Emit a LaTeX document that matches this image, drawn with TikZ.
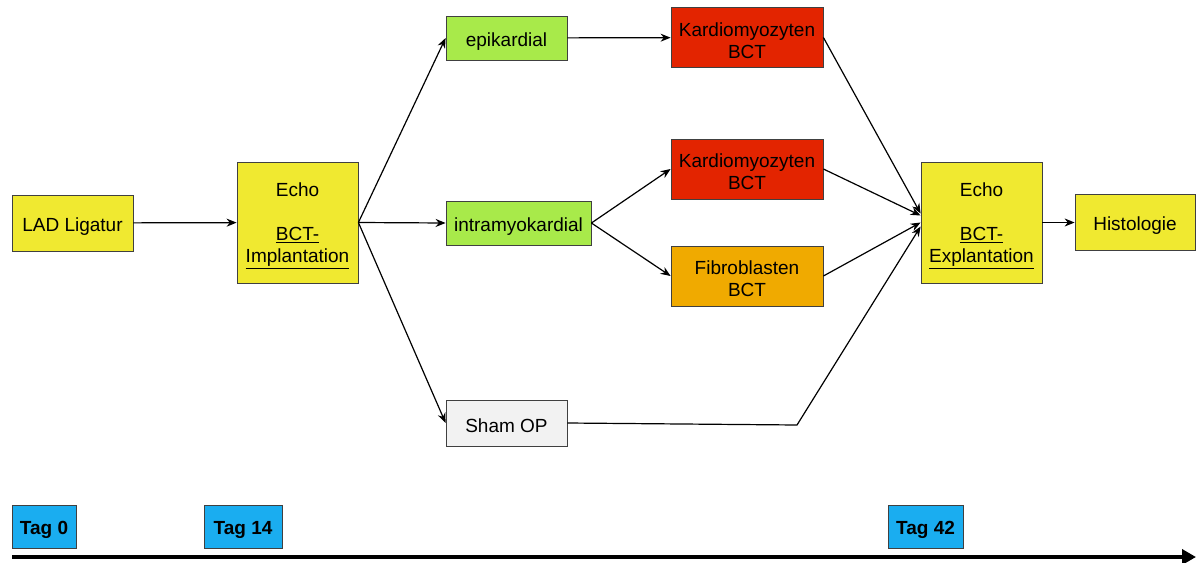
\documentclass[tikz,border=0pt]{standalone}
\usepackage{fontspec}
\setmainfont{Liberation Sans}
\usetikzlibrary{arrows.meta}

\definecolor{echoyellow}{RGB}{240,233,48}
\definecolor{graftgreen}{RGB}{168,234,74}
\definecolor{cardiored}{RGB}{227,36,0}
\definecolor{fibroorange}{RGB}{240,170,0}
\definecolor{shamgray}{RGB}{242,242,242}
\definecolor{tagblue}{RGB}{26,173,240}

\def\lift{\rule{0pt}{20pt}}   % taller first line, so the text sits a bit lower

\begin{document}
\begin{tikzpicture}[x=1pt, y=-1pt,
    nodes = {font=\fontsize{19}{22}\selectfont, align=center, inner sep=0pt,
             draw=black!75, line width=0.8pt},
    stepbox/.style = {fill=echoyellow, minimum width=121pt, minimum height=56pt},
    echobox/.style = {fill=echoyellow, minimum width=121pt, minimum height=121pt},
    routebox/.style = {fill=graftgreen, minimum height=44pt},
    cellbox/.style = {minimum width=152pt, minimum height=60pt},
    tagbox/.style = {fill=tagblue, minimum height=43pt, font=\fontsize{19}{22}\selectfont\bfseries},
    arr/.style = {draw=black, line width=1.2pt, -{Stealth[length=10pt,width=8pt]}}]
  \useasboundingbox (0,0) rectangle (1196,562);

  % Study steps
  \node[stepbox] (lad) at (72.5,223) {\lift LAD Ligatur};
  \node[echobox] (implant) at (297.5,222.5) {\lift Echo\\[22pt]\underline{BCT-}\\\underline{Implantation}};
  \node[echobox] (explant) at (981.5,222.5) {\lift Echo\\[22pt]\underline{BCT-}\\\underline{Explantation}};
  \node[stepbox, minimum width=120pt] (histo) at (1135,222.5) {\lift Histologie};

  % Application routes
  \node[routebox, minimum width=121pt] (epi) at (506.5,38) {\lift epikardial};
  \node[routebox, minimum width=145pt] (intra) at (518.5,223) {\lift intramyokardial};
  \node[fill=shamgray, minimum width=121pt, minimum height=46pt] (sham) at (506.5,423) {\lift Sham OP};

  % Grafts
  \node[cellbox, fill=cardiored] (cardioA) at (747,37.5) {\lift Kardiomyozyten\\BCT};
  \node[cellbox, fill=cardiored] (cardioB) at (747,169) {\lift Kardiomyozyten\\BCT};
  \node[cellbox, fill=fibroorange] (fibro) at (747,276) {\lift Fibroblasten\\BCT};

  % Connections
  \draw[arr] (lad) -- (implant);
  \foreach \target in {epi, intra, sham}
    \draw[arr] (implant.east) -- (\target.west);
  \draw[arr] (epi) -- (cardioA);
  \draw[arr] (intra.east) -- (cardioB.west);
  \draw[arr] (intra.east) -- (fibro.west);
  \draw[arr] (cardioA.east) -- ([yshift=9pt]explant.west);
  \draw[arr] (cardioB.east) -- ([yshift=7pt]explant.west);
  \draw[arr] (fibro.east) -- (explant.west);
  \coordinate (bend) at (797,425);
  \draw[arr] (sham.east) -- (bend) -- ([yshift=-4pt]explant.west);
  \draw[arr] (explant) -- (histo);

  % Timeline
  \foreach \name/\x/\w/\day in {tagA/44/64/0, tagB/243/78/14, tagC/925.5/75/42}
    \node[tagbox, minimum width=\w pt] (\name) at (\x,526.5) {\lift Tag \day};
  \coordinate (tstart) at (12,557);
  \coordinate (tend) at (1196,557);
  \draw[line width=4pt, -{Triangle[length=14pt,width=15pt]}] (tstart) -- (tend);
\end{tikzpicture}
\end{document}
